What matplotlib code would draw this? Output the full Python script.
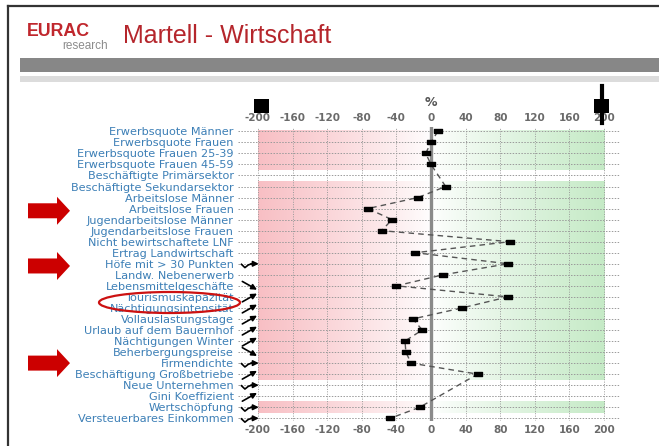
import numpy as np
import matplotlib
matplotlib.use("Agg")
import matplotlib.pyplot as plt
from matplotlib.patches import Polygon, Ellipse, Rectangle
from matplotlib.colors import to_rgb

# ---------------- data ----------------
categories = [
    "Erwerbsquote Männer", "Erwerbsquote Frauen", "Erwerbsquote Frauen 25-39",
    "Erwerbsquote Frauen 45-59", "Beschäftigte Primärsektor", "Beschäftigte Sekundarsektor",
    "Arbeitslose Männer", "Arbeitslose Frauen", "Jugendarbeitslose Männer",
    "Jugendarbeitslose Frauen", "Nicht bewirtschaftete LNF", "Ertrag Landwirtschaft",
    "Höfe mit > 30 Punkten", "Landw. Nebenerwerb", "Lebensmittelgeschäfte",
    "Tourismuskapazität", "Nächtigungsintensität", "Vollauslastungstage",
    "Urlaub auf dem Bauernhof", "Nächtigungen Winter", "Beherbergungspreise",
    "Firmendichte", "Beschäftigung Großbetriebe", "Neue Unternehmen",
    "Gini Koeffizient", "Wertschöpfung", "Versteuerbares Einkommen",
]
values = [8, 0, -6, 0, None, 17, -15, -73, -45, -57, 91, -18, 89, 14, -40,
          89, 36, -21, -10, -30, -29, -23, 54, None, None, -13, -47]
x_ticks = [-200, -160, -120, -80, -40, 0, 40, 80, 120, 160, 200]
x_ticklabels = ["-200", "-160", "-120", "-80", "-40", "0", "40", "80", "120", "160", "200"]
# shaded bands (first row, last row)
bands = [(1, 4), (6, 23), (26, 26)]
# hand-drawn annotation arrows next to labels: row -> kind
annot = {13: "wave", 15: "down", 16: "up", 17: "up", 18: "up", 19: "up", 20: "up",
         21: "down", 22: "wave", 23: "up", 24: "wave", 25: "up", 26: "wave", 27: "wave"}
red_arrow_rows = [8.2, 13.2, 22]

W, H = 659, 446
fig = plt.figure(figsize=(W / 100, H / 100), dpi=100)
fig.patch.set_facecolor("white")

def fx(x):
    return x / W

def fy(y):
    return 1 - y / H

# ---------------- axes ----------------
ax_l, ax_r, ax_t, ax_b = 238, 620, 126.9, 420.5
ax = fig.add_axes([fx(ax_l), fy(ax_b), (ax_r - ax_l) / W, (ax_b - ax_t) / H])
ax.set_xlim(-223, 218.5)
ax.set_ylim(27.2, 0.6)
for s in ax.spines.values():
    s.set_visible(False)

rows = np.arange(1, len(categories) + 1)

# gradient bands
n = 400
xs = np.linspace(-200, 200, n)
red = np.array(to_rgb("#f8bfc4"))
green = np.array(to_rgb("#c5eac6"))
img = np.ones((1, n, 3))
for i, xv in enumerate(xs):
    t = min(abs(xv) / 200.0, 1.0) ** 0.85
    c = red if xv < 0 else green
    img[0, i] = (1 - t) * np.ones(3) + t * c
for r0, r1 in bands:
    top = r0 - 0.5 if r0 > 1 else 0.95
    ax.imshow(img, extent=(-200, 200, r1 + 0.5, top), aspect="auto",
              interpolation="bilinear", zorder=0)

# grid
for xt in x_ticks:
    ax.axvline(xt, color="#9a9a9a", lw=0.7, ls=(0, (1, 1.5)), zorder=1)
for r in rows:
    ax.axhline(r, color="#9a9a9a", lw=0.7, ls=(0, (1.5, 1.5)), zorder=1)
ax.axvline(0, color="#8a8a8a", lw=2.4, zorder=2)

# data line and markers
vr = [r for r, v in zip(rows, values) if v is not None]
vv = [v for v in values if v is not None]
ax.plot(vv, vr, color="#555555", lw=1.0, ls=(0, (4, 3)), zorder=3)
marker = [(-1, -0.55), (1, -0.55), (1, 0.55), (-1, 0.55), (-1, -0.55)]
ax.plot(vv, vr, ls="none", marker=marker, ms=6, color="black", zorder=4)

# ticks
ax.set_yticks(rows)
ax.set_yticklabels(categories, fontsize=8.1, color="#3c7fb6", family="DejaVu Sans")
ax.set_xticks(x_ticks)
ax.set_xticklabels(x_ticklabels, fontsize=7.5, color="#6a6a6a", fontweight="bold")
ax.tick_params(axis="y", length=0, pad=3)
ax.tick_params(axis="x", length=0, pad=3, labeltop=True, labelbottom=True)

# annotation arrows near labels
akw = dict(arrowstyle="-|>", color="black", lw=1.2, mutation_scale=8,
           shrinkA=0, shrinkB=0)
for r, kind in annot.items():
    if kind == "up":
        ax.annotate("", xy=(-201, r - 0.3), xytext=(-218, r + 0.45), arrowprops=akw,
                    annotation_clip=False, zorder=6)
    elif kind == "down":
        ax.annotate("", xy=(-201, r + 0.35), xytext=(-218, r - 0.4), arrowprops=akw,
                    annotation_clip=False, zorder=6)
    else:
        ax.plot([-219, -215, -211, -207], [r + 0.05, r + 0.35, r + 0.1, r],
                color="black", lw=1.2, clip_on=False, zorder=6)
        ax.annotate("", xy=(-199, r), xytext=(-208, r), arrowprops=akw,
                    annotation_clip=False, zorder=6)

# ---------------- slide decoration ----------------
fig.add_artist(plt.Line2D([fx(7.5), fx(7.5)], [fy(6), fy(446)], color="#333333", lw=1.6))
fig.add_artist(plt.Line2D([fx(7.5), fx(659)], [fy(6), fy(6)], color="#333333", lw=1.6))
fig.add_artist(Rectangle((fx(20), fy(72)), fx(639), 14 / H, transform=fig.transFigure,
                         facecolor="#878787", edgecolor="none"))
fig.add_artist(Rectangle((fx(20), fy(82)), fx(639), 6 / H, transform=fig.transFigure,
                         facecolor="#dcdcdc", edgecolor="none"))

fig.text(fx(27), fy(36), "EURAC", color="#c0272d", fontsize=12.8, fontweight="bold",
         family="Liberation Sans", va="baseline")
fig.text(fx(62), fy(49), "research", color="#8c8c8c", fontsize=8.5,
         family="Liberation Sans", va="baseline")
fig.text(fx(123), fy(43), "Martell - Wirtschaft", color="#b5262c", fontsize=18,
         family="Liberation Sans", va="baseline")
fig.text(fx(431), fy(103), "%", color="#555555", fontsize=9, fontweight="bold",
         ha="center", va="center")

# black squares at top
fig.add_artist(Rectangle((fx(254), fy(113)), 15 / W, 14 / H, transform=fig.transFigure,
                         facecolor="black", edgecolor="none"))
fig.add_artist(Rectangle((fx(594), fy(113)), 15 / W, 14 / H, transform=fig.transFigure,
                         facecolor="black", edgecolor="none"))
fig.add_artist(plt.Line2D([fx(601.5), fx(601.5)], [fy(86), fy(123)], color="black", lw=3))

# red arrows on the left
def row_y(r):
    return ax_t + (r - 0.6) / (27.2 - 0.6) * (ax_b - ax_t)

for r in red_arrow_rows:
    yc = row_y(r)
    pts = [(28, yc - 7.5), (57, yc - 7.5), (57, yc - 14), (70, yc), (57, yc + 14),
           (57, yc + 7.5), (28, yc + 7.5)]
    fig.add_artist(Polygon([(fx(x), fy(y)) for x, y in pts], closed=True,
                           transform=fig.transFigure, facecolor="#cc0000", edgecolor="none"))

# red ellipse around tourism labels
fig.add_artist(Ellipse((fx(169.5), fy(302.5)), 141 / W, 21 / H, transform=fig.transFigure,
                       facecolor="none", edgecolor="#cc1111", lw=1.6))

fig.savefig("out.png", dpi=100)
